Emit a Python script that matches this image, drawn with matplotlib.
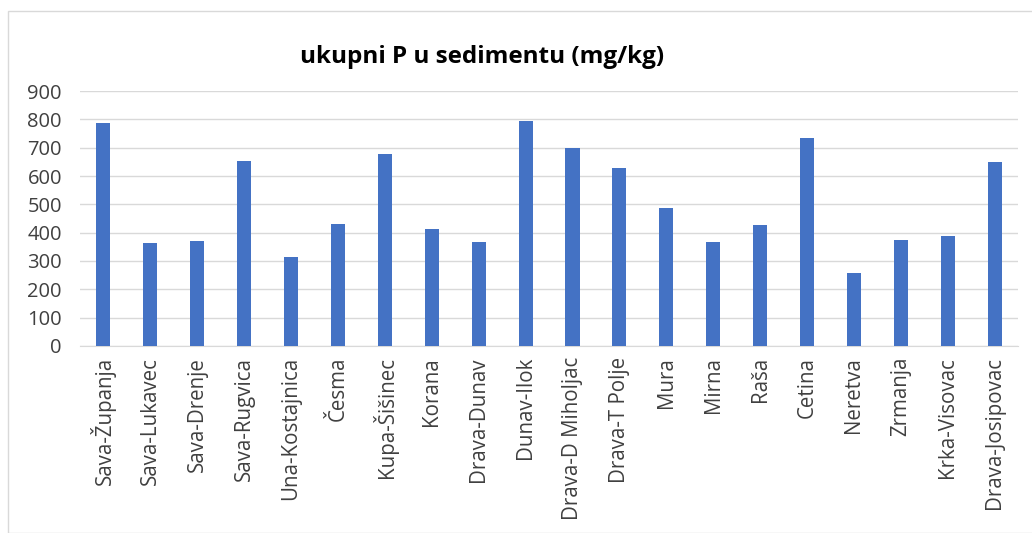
import matplotlib
matplotlib.use("Agg")
import matplotlib.pyplot as plt
import matplotlib.patches as mpatches
import numpy as np

# ── Data ──────────────────────────────────────────────────────────────
SITES = [
    "Sava-Županja", "Sava-Lukavec", "Sava-Drenje", "Sava-Rugvica",
    "Una-Kostajnica", "Česma", "Kupa-Šišinec", "Korana", "Drava-Dunav",
    "Dunav-Ilok", "Drava-D Miholjac", "Drava-T Polje", "Mura", "Mirna",
    "Raša", "Cetina", "Neretva", "Zrmanja", "Krka-Visovac", "Drava-Josipovac",
]
P_TOTAL = [
    787, 362, 370, 654, 314, 430, 678, 413, 366,
    796, 700, 627, 487, 366, 426, 735, 256, 375, 389, 650,
]
Y_TICKS = list(range(0, 1000, 100))

BAR_COLOR = "#4472C4"
GRID_COLOR = "#D9D9D9"
TEXT_COLOR = "#404040"

plt.rcParams["font.family"] = ["Open Sans", "DejaVu Sans"]

fig = plt.figure(figsize=(10.32, 5.33), dpi=100)
ax = fig.add_axes([0.0775, 0.351, 0.909, 0.478])

x = np.arange(len(SITES))
ax.bar(x, P_TOTAL, width=0.3, color=BAR_COLOR, zorder=3)

ax.set_xlim(-0.5, len(SITES) - 0.5)
ax.set_ylim(0, 900)
ax.set_yticks(Y_TICKS)
ax.set_yticklabels([str(v) for v in Y_TICKS], fontsize=14.5, color=TEXT_COLOR)
ax.set_xticks(x)
ax.set_xticklabels(SITES, rotation=90, fontsize=14.8, color=TEXT_COLOR)
ax.tick_params(axis="both", length=0)
ax.tick_params(axis="y", pad=13)
ax.tick_params(axis="x", pad=8)

ax.grid(axis="y", color=GRID_COLOR, linewidth=1, zorder=0)
for side in ("top", "right", "left"):
    ax.spines[side].set_visible(False)
ax.spines["bottom"].set_color(GRID_COLOR)

fig.text(0.467, 0.893, "ukupni P u sedimentu (mg/kg)", ha="center", va="center",
         fontsize=17.5, fontweight="bold", color="black")

# chart outer border
fig.patches.append(mpatches.Rectangle((8 / 1032, 0), 1.2, 1 - 11 / 533,
                                      transform=fig.transFigure, fill=False,
                                      edgecolor=GRID_COLOR, linewidth=1))

fig.savefig("out.png", dpi=100)
